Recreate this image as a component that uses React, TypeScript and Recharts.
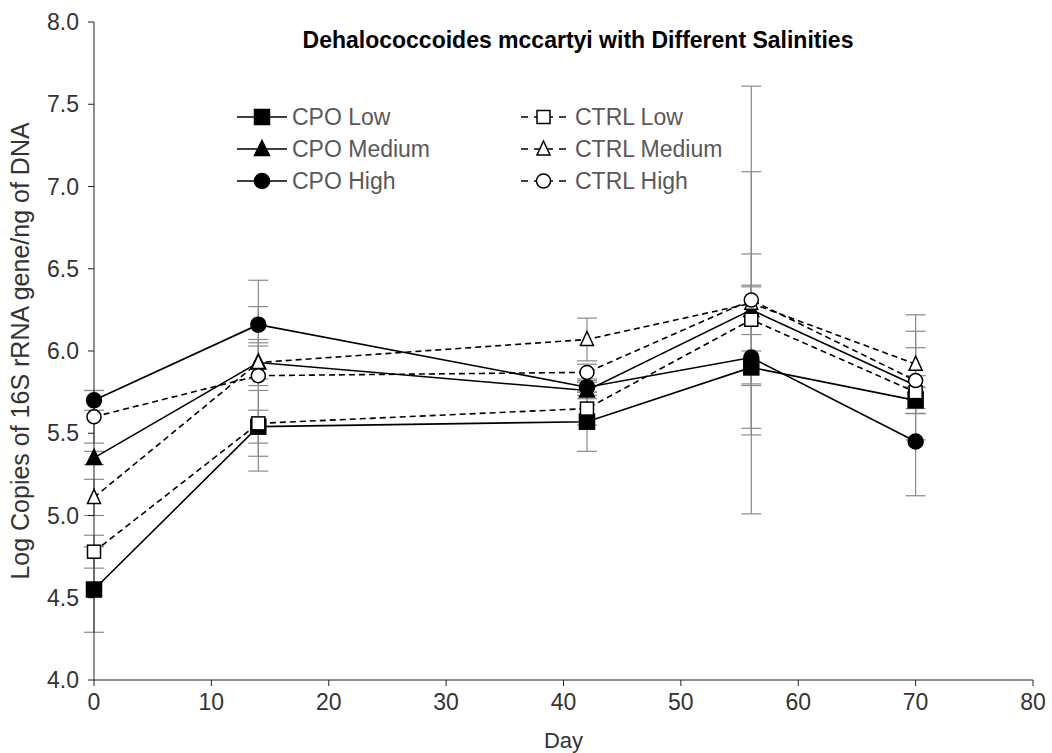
import React from "react";
import { LineChart, Line, XAxis, YAxis, ErrorBar } from "recharts";

const days = [0, 14, 42, 56, 70];

const cpoLow = [4.55, 5.54, 5.57, 5.9, 5.7];
const cpoMedium = [5.35, 5.93, 5.76, 6.25, 5.79];
const cpoHigh = [5.7, 6.16, 5.78, 5.96, 5.45];
const ctrlLow = [4.78, 5.56, 5.65, 6.19, 5.75];
const ctrlMedium = [5.11, 5.93, 6.07, 6.29, 5.92];
const ctrlHigh = [5.6, 5.85, 5.87, 6.31, 5.82];

const cpoLowErr = [0.26, 0.1, 0.18, 0.1, 0.08];
const cpoMediumErr = [0.04, 0.14, 0.05, 0.15, 0.33];
const cpoHighErr = [0.06, 0.11, 0.05, 0.43, 0.33];
const ctrlLowErr = [0.1, 0.2, 0.1, 0.4, 0.1];
const ctrlMediumErr = [0.11, 0.1, 0.13, 0.8, 0.3];
const ctrlHighErr = [0.16, 0.58, 0.05, 1.3, 0.2];

const yTicks = [4.0, 4.5, 5.0, 5.5, 6.0, 6.5, 7.0, 7.5, 8.0];
const xTicks = [0, 10, 20, 30, 40, 50, 60, 70, 80];

const data = days.map((d, i) => ({
  day: d,
  cpoLow: cpoLow[i],
  cpoMedium: cpoMedium[i],
  cpoHigh: cpoHigh[i],
  ctrlLow: ctrlLow[i],
  ctrlMedium: ctrlMedium[i],
  ctrlHigh: ctrlHigh[i],
  cpoLowErr: cpoLowErr[i],
  cpoMediumErr: cpoMediumErr[i],
  cpoHighErr: cpoHighErr[i],
  ctrlLowErr: ctrlLowErr[i],
  ctrlMediumErr: ctrlMediumErr[i],
  ctrlHighErr: ctrlHighErr[i],
}));

type Shape = "square" | "triangle" | "circle";

function Marker({ cx, cy, shape, filled }: { cx: number; cy: number; shape: Shape; filled: boolean }) {
  const fill = filled ? "#000" : "#fff";
  const sw = 1.5;
  if (shape === "square") {
    const s = filled ? 15 : 13;
    return <rect x={cx - s / 2} y={cy - s / 2} width={s} height={s} fill={fill} stroke="#000" strokeWidth={sw} />;
  }
  if (shape === "triangle") {
    const h = filled ? 15 : 14;
    const w = filled ? 15 : 13;
    return (
      <polygon
        points={`${cx},${cy - h / 2 - 1} ${cx + w / 2},${cy + h / 2 - 1} ${cx - w / 2},${cy + h / 2 - 1}`}
        fill={fill}
        stroke="#000"
        strokeWidth={sw}
      />
    );
  }
  return <circle cx={cx} cy={cy} r={filled ? 7.5 : 7} fill={fill} stroke="#000" strokeWidth={sw} />;
}

const makeDot = (shape: Shape, filled: boolean) => (props: any) => {
  const { cx, cy, index } = props;
  return <Marker key={`${shape}-${filled}-${index}`} cx={cx} cy={cy} shape={shape} filled={filled} />;
};

const series = [
  { key: "cpoLow", name: "CPO Low", shape: "square" as Shape, filled: true, dashed: false },
  { key: "cpoMedium", name: "CPO Medium", shape: "triangle" as Shape, filled: true, dashed: false },
  { key: "cpoHigh", name: "CPO High", shape: "circle" as Shape, filled: true, dashed: false },
  { key: "ctrlLow", name: "CTRL Low", shape: "square" as Shape, filled: false, dashed: true },
  { key: "ctrlMedium", name: "CTRL Medium", shape: "triangle" as Shape, filled: false, dashed: true },
  { key: "ctrlHigh", name: "CTRL High", shape: "circle" as Shape, filled: false, dashed: true },
];

const font = "'Liberation Sans', Arial, sans-serif";
const axisText = "#333";

function LegendItem({ name, shape, filled, dashed }: { name: string; shape: Shape; filled: boolean; dashed: boolean }) {
  return (
    <div style={{ display: "flex", alignItems: "center", height: 32 }}>
      <svg width={dashed ? 52 : 50} height={20} style={{ overflow: "visible" }}>
        {dashed ? (
          <>
            <line x1={3} y1={10} x2={10} y2={10} stroke="#000" strokeWidth={1.5} />
            <line x1={41} y1={10} x2={48} y2={10} stroke="#000" strokeWidth={1.5} />
            <line x1={16} y1={10} x2={35} y2={10} stroke="#000" strokeWidth={1.5} />
          </>
        ) : (
          <line x1={0} y1={10} x2={50} y2={10} stroke="#000" strokeWidth={1.5} />
        )}
        <Marker cx={dashed ? 25.5 : 25} cy={10} shape={shape} filled={filled} />
      </svg>
      <span style={{ marginLeft: 5, fontSize: 23, color: "#595959", fontFamily: font, lineHeight: 1 }}>{name}</span>
    </div>
  );
}

export default function App() {
  return (
    <div style={{ position: "absolute", left: 0, top: 0, width: 1052, height: 753, background: "#fff" }}>
      <LineChart width={1052} height={753} data={data} margin={{ top: 22, right: 19, bottom: 3, left: 0 }}>
        <XAxis
          dataKey="day"
          type="number"
          domain={[0, 80]}
          ticks={xTicks}
          height={70}
          tick={{ fill: axisText, fontSize: 23, fontFamily: font }}
          stroke="#222"
          tickSize={6}
          tickMargin={8}
          label={{ value: "Day", position: "insideBottom", offset: 2, fill: axisText, fontSize: 22, fontFamily: font }}
        />
        <YAxis
          type="number"
          domain={[4, 8]}
          ticks={yTicks}
          width={94}
          tickFormatter={(v: number) => v.toFixed(1)}
          tick={{ fill: axisText, fontSize: 23, fontFamily: font }}
          stroke="#222"
          tickSize={6}
          tickMargin={9}
          label={{
            value: "Log Copies of 16S rRNA gene/ng of DNA",
            angle: -90,
            position: "insideLeft",
            offset: 20,
            fill: axisText,
            fontSize: 25,
            fontFamily: font,
            style: { textAnchor: "middle" },
          }}
        />
        {series.map((s) => (
          <Line
            key={`${s.key}-err`}
            dataKey={s.key}
            stroke="none"
            dot={false}
            activeDot={false}
            legendType="none"
            isAnimationActive={false}
          >
            <ErrorBar dataKey={`${s.key}Err`} direction="y" width={10} stroke="#8a8a8a" strokeWidth={1.2} />
          </Line>
        ))}
        {series.map((s) => (
          <Line
            key={s.key}
            dataKey={s.key}
            name={s.name}
            stroke="#000"
            strokeWidth={1.6}
            strokeDasharray={s.dashed ? "6 4" : undefined}
            dot={makeDot(s.shape, s.filled)}
            activeDot={false}
            isAnimationActive={false}
          />
        ))}
      </LineChart>
      <div
        style={{
          position: "absolute",
          left: 290,
          top: 29,
          width: 576,
          textAlign: "center",
          fontFamily: font,
          fontWeight: "bold",
          fontSize: 23,
          lineHeight: 1,
          color: "#000",
          whiteSpace: "nowrap",
        }}
      >
        Dehalococcoides mccartyi with Different Salinities
      </div>
      <div style={{ position: "absolute", left: 237, top: 101 }}>
        {series.slice(0, 3).map((s) => (
          <LegendItem key={s.key} name={s.name} shape={s.shape} filled={s.filled} dashed={s.dashed} />
        ))}
      </div>
      <div style={{ position: "absolute", left: 518, top: 101 }}>
        {series.slice(3).map((s) => (
          <LegendItem key={s.key} name={s.name} shape={s.shape} filled={s.filled} dashed={s.dashed} />
        ))}
      </div>
    </div>
  );
}
